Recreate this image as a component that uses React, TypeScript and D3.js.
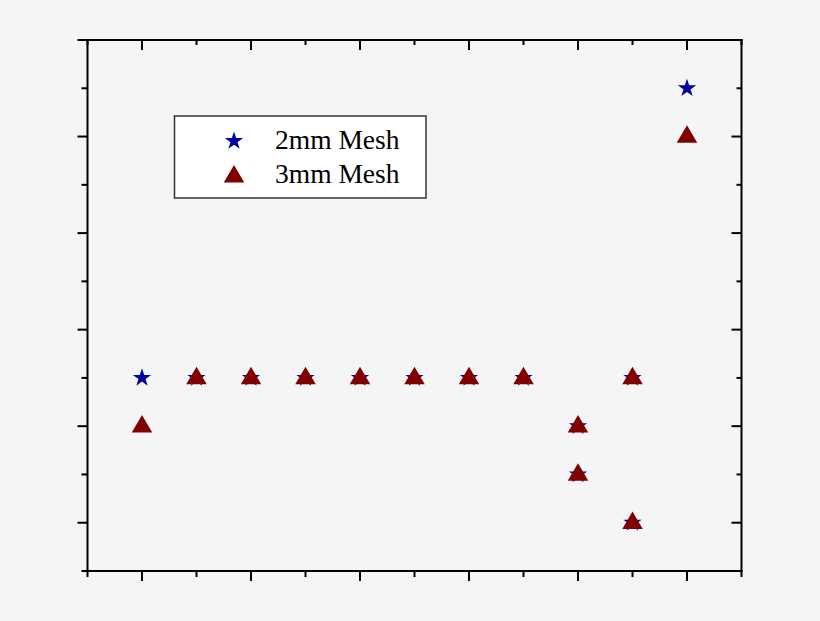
import React from "react";
import * as d3 from "d3";

const xValues = [1, 2, 3, 4, 5, 6, 7, 8, 9, 9, 10, 10, 11];
const mesh2mm = [4, 4, 4, 4, 4, 4, 4, 4, 3, 2, 4, 1, 10];
const mesh3mm = [3, 4, 4, 4, 4, 4, 4, 4, 3, 2, 4, 1, 9];
const seriesNames = ["2mm Mesh", "3mm Mesh"];
const xMajorTicks = [1, 3, 5, 7, 9, 11];
const xMinorTicks = [0, 2, 4, 6, 8, 10, 12];
const yMajorTicks = [1, 3, 5, 7, 9, 11];
const yMinorTicks = [0, 2, 4, 6, 8, 10];

const W = 820;
const H = 621;
const L = 87.5, R = 741.5, T = 40, B = 571;
const BLUE = "#0000a0";
const RED = "#800000";

function trianglePath(w: number, h: number, dy: number) {
  const p = d3.path();
  p.moveTo(0, -h / 2 + dy);
  p.lineTo(w / 2, h / 2 + dy);
  p.lineTo(-w / 2, h / 2 + dy);
  p.closePath();
  return p.toString();
}

export default function App() {
  const x = d3.scaleLinear().domain([0, 12]).range([L, R]);
  const y = d3.scaleLinear().domain([0, 11]).range([B, T]);
  const star = d3.symbol().type(d3.symbolStar).size(104)()!;
  const tri = trianglePath(20.5, 17.5, -2.5);
  const sw = 2;
  const tickStyle = { stroke: "#000", strokeWidth: sw };
  const font = "'Liberation Serif', 'Times New Roman', serif";

  return (
    <svg
      width={W}
      height={H}
      style={{ position: "absolute", left: 0, top: 0, display: "block" }}
    >
      <rect x={0} y={0} width={W} height={H} fill="#f5f5f5" />
      {/* frame */}
      <line x1={L} x2={L} y1={T - 1} y2={B + 1} {...tickStyle} />
      <line x1={R} x2={R} y1={T - 1} y2={B + 1} {...tickStyle} />
      <line x1={L - 1} x2={R + 1} y1={T} y2={T} {...tickStyle} />
      <line x1={L - 1} x2={R + 1} y1={B} y2={B} {...tickStyle} />
      {/* bottom ticks (outward) and top ticks (inward) */}
      {xMajorTicks.map((v) => (
        <g key={"xM" + v}>
          <line x1={x(v)} x2={x(v)} y1={B} y2={B + 10} {...tickStyle} />
          <line x1={x(v)} x2={x(v)} y1={T} y2={T + 10} {...tickStyle} />
        </g>
      ))}
      {xMinorTicks.map((v) => (
        <g key={"xm" + v}>
          <line x1={x(v)} x2={x(v)} y1={B} y2={B + 6} {...tickStyle} />
          <line x1={x(v)} x2={x(v)} y1={T} y2={T + 5} {...tickStyle} />
        </g>
      ))}
      {/* left ticks (outward) and right ticks (inward) */}
      {yMajorTicks.map((v) => (
        <g key={"yM" + v}>
          <line x1={L - 10} x2={L} y1={y(v)} y2={y(v)} {...tickStyle} />
          <line x1={R - 10} x2={R} y1={y(v)} y2={y(v)} {...tickStyle} />
        </g>
      ))}
      {yMinorTicks.map((v) => (
        <g key={"ym" + v}>
          <line x1={L - 6} x2={L} y1={y(v)} y2={y(v)} {...tickStyle} />
          <line x1={R - 5} x2={R} y1={y(v)} y2={y(v)} {...tickStyle} />
        </g>
      ))}
      {/* data */}
      {xValues.map((xv, i) => (
        <path
          key={"s" + i}
          d={star}
          transform={`translate(${x(xv)},${y(mesh2mm[i])})`}
          fill={BLUE}
        />
      ))}
      {xValues.map((xv, i) => (
        <path
          key={"t" + i}
          d={tri}
          transform={`translate(${x(xv)},${y(mesh3mm[i])})`}
          fill={RED}
        />
      ))}
      {/* legend */}
      <rect x={174.5} y={116} width={251.5} height={82} fill="#fff" stroke="#333" strokeWidth={1.5} />
      <path d={star} transform="translate(234,141)" fill={BLUE} />
      <path d={tri} transform="translate(234,176.2)" fill={RED} />
      <text x={275} y={149} fontFamily={font} fontSize={27.5} fill="#000">
        {seriesNames[0]}
      </text>
      <text x={275} y={183.3} fontFamily={font} fontSize={27.5} fill="#000">
        {seriesNames[1]}
      </text>
    </svg>
  );
}
